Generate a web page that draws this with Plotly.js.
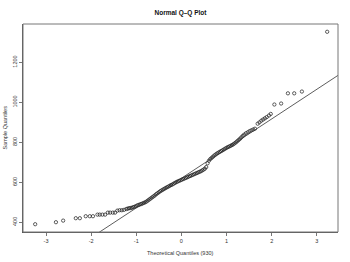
<!DOCTYPE html>
<html>
<head>
<meta charset="utf-8">
<script src="https://cdn.plot.ly/plotly-3.0.1.min.js"></script>
<style>html,body{margin:0;padding:0;background:#fff;}#chart{width:350px;height:262px;}</style>
</head>
<body>
<div id="chart"></div>
<script>
// Theoretical quantiles (x) and sample quantiles (y)
const theoretical = [
  -3.24, -2.78, -2.62, -2.34, -2.25, -2.12, -2.03, -1.96, -1.86, -1.81, -1.75, -1.69,
  -1.63, -1.58, -1.52, -1.47, -1.42, -1.37, -1.32, -1.27,
  -1.22, -1.19, -1.16, -1.13, -1.10, -1.07, -1.04, -1.01, -0.98, -0.95, -0.92, -0.89,
  -0.86, -0.83, -0.80, -0.77, -0.74, -0.71, -0.68, -0.65, -0.62, -0.59, -0.56, -0.53,
  -0.50, -0.47, -0.44, -0.41, -0.38, -0.35, -0.32, -0.29, -0.26, -0.23, -0.20, -0.17,
  -0.14, -0.11, -0.08, -0.05, -0.02, 0.01, 0.04, 0.07, 0.10, 0.13, 0.16, 0.19,
  0.22, 0.25, 0.28, 0.31, 0.34, 0.37, 0.40, 0.43, 0.46, 0.49, 0.52, 0.55,
  0.58, 0.61, 0.64, 0.67, 0.70, 0.73, 0.76, 0.79, 0.82, 0.85, 0.88, 0.91,
  0.94, 0.97, 1.00, 1.03, 1.06, 1.09, 1.12, 1.15, 1.18, 1.21, 1.24, 1.27,
  1.30, 1.33, 1.36, 1.39, 1.43, 1.47, 1.51, 1.55, 1.59, 1.63,
  1.69, 1.73, 1.77, 1.81, 1.85, 1.89, 1.94, 1.98,
  2.06, 2.21, 2.36, 2.50, 2.67, 3.23
];
const sample = [
  390, 400, 408, 420, 420, 430, 430, 430, 438, 438, 438, 438,
  448, 448, 448, 448, 458, 460, 460, 462,
  466, 468, 470, 471, 472, 475, 477, 480, 484, 486, 489, 491,
  494, 497, 500, 504, 509, 514, 519, 524, 529, 534, 540, 545,
  550, 555, 559, 563, 567, 571, 575, 578, 582, 586, 589, 593,
  597, 601, 604, 607, 610, 613, 616, 619, 622, 625, 628, 631,
  634, 637, 640, 643, 646, 649, 652, 655, 659, 663, 668, 676,
  695, 708, 716, 722, 728, 734, 739, 744, 748, 752, 756, 760,
  764, 768, 772, 776, 779, 782, 786, 790, 795, 800, 806, 812,
  818, 825, 832, 838, 845, 850, 856, 860, 864, 868,
  893, 900, 908, 914, 920, 926, 934, 942,
  989, 994, 1045, 1045, 1054, 1353
];
// Reference line (qqline)
const lineIntercept = 620;
const lineSlope = 148.4;
const lineX = [-4, 4];

const xTicks = [-3, -2, -1, 0, 1, 2, 3];
const yTicks = [400, 600, 800, 1000, 1200];

const titleText = 'Normal Q\u2013Q Plot';
const xLabel = 'Theoretical Quantiles (930)';
const yLabel = 'Sample Quantiles';

const font = 'Liberation Sans, Arial, Helvetica, sans-serif';

const traces = [
  {
    x: theoretical, y: sample, type: 'scatter', mode: 'markers',
    marker: {symbol: 'circle-open', size: 3.3, color: '#1a1a1a', line: {width: 0.7, color: '#1a1a1a'}},
    hoverinfo: 'skip', showlegend: false
  },
  {
    x: lineX, y: lineX.map(v => lineIntercept + lineSlope * v), type: 'scatter', mode: 'lines',
    line: {color: '#333', width: 0.8}, hoverinfo: 'skip', showlegend: false
  }
];

const axisCommon = {
  showgrid: false, zeroline: false, showline: true, mirror: false,
  linecolor: '#555', linewidth: 1, ticks: 'outside', ticklen: 3, tickwidth: 0.8, tickcolor: '#555',
  tickfont: {family: font, size: 5.5, color: '#333'}, tickmode: 'array'
};

const layout = {
  width: 350, height: 262,
  margin: {l: 23, r: 12, t: 24, b: 30},
  paper_bgcolor: '#fff', plot_bgcolor: '#fff',
  font: {family: font, color: '#222'},
  title: {text: '<b>' + titleText + '</b>', font: {family: font, size: 6.5, color: '#111'},
          x: 0.5, xref: 'paper', y: 1 - 13 / 262, yref: 'container', yanchor: 'middle'},
  xaxis: Object.assign({}, axisCommon, {range: [-3.51, 3.47], tickvals: xTicks, ticktext: xTicks.map(String)}),
  yaxis: Object.assign({}, axisCommon, {range: [351, 1392], tickvals: yTicks, ticktext: yTicks.map(String), tickangle: -90}),
  shapes: [{type: 'rect', xref: 'paper', yref: 'paper', x0: 0, y0: 0, x1: 1, y1: 1,
            line: {color: '#777', width: 1}}],
  annotations: [
    {text: xLabel, xref: 'paper', yref: 'paper', x: 0.5, y: -(252.5 - 232) / 208,
     showarrow: false, xanchor: 'center', yanchor: 'middle', font: {family: font, size: 5.5, color: '#333'}},
    {text: yLabel, xref: 'paper', yref: 'paper', x: -(23 - 4.5) / 315, y: 0.5, textangle: -90,
     showarrow: false, xanchor: 'center', yanchor: 'middle', font: {family: font, size: 5.5, color: '#333'}}
  ]
};

Plotly.newPlot('chart', traces, layout, {staticPlot: true, displayModeBar: false});
</script>
</body>
</html>
